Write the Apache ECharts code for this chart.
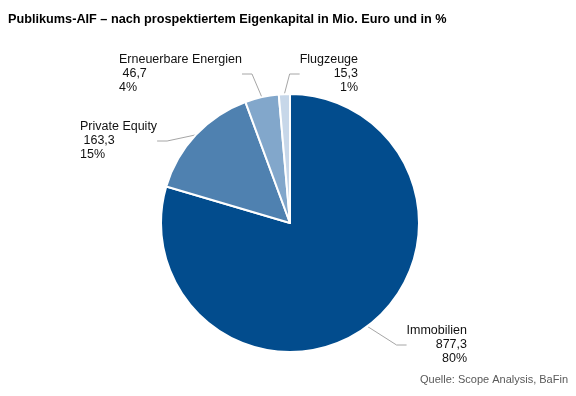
<!DOCTYPE html>
<html>
<head>
<meta charset="utf-8">
<script src="https://cdn.jsdelivr.net/npm/echarts@6/dist/echarts.min.js"></script>
<style>html,body{margin:0;padding:0;background:#fff}#c{width:576px;height:396px}</style>
</head>
<body>
<div id="c"></div>
<script>
const categories = ['Immobilien', 'Private Equity', 'Erneuerbare Energien', 'Flugzeuge'];
const values = [877.3, 163.3, 46.7, 15.3];
const percents = ['80%', '15%', '4%', '1%'];
const colors = ['#024C8D', '#4F81B0', '#82A7CB', '#C7D7E9'];

const labelPlacement = [
  { x: 467, y: 324, align: 'right' },
  { x: 80, y: 120, align: 'left' },
  { x: 119, y: 53, align: 'left' },
  { x: 358, y: 53, align: 'right' }
];

const fmt = v => v.toFixed(1).replace('.', ',');

const chart = echarts.init(document.getElementById('c'), null, { renderer: 'canvas' });
chart.setOption({
  animation: false,
  backgroundColor: '#ffffff',
  title: {
    text: 'Publikums-AIF \u2013 nach prospektiertem Eigenkapital in Mio. Euro und in %',
    left: 3, top: 8,
    textStyle: { fontFamily: 'Liberation Sans, Arial, sans-serif', fontSize: 12.7, fontWeight: 'bold', color: '#000' }
  },
  graphic: [{
    type: 'text', right: 8, top: 374,
    style: { text: 'Quelle: Scope Analysis, BaFin', font: '11px "Liberation Sans", Arial, sans-serif', fill: '#595959' }
  }],
  series: [{
    type: 'pie',
    center: [290, 223],
    radius: 129,
    startAngle: 90,
    clockwise: true,
    avoidLabelOverlap: false,
    data: categories.map((c, i) => ({
      name: c, value: values[i],
      itemStyle: { color: colors[i] },
      label: {
        formatter: (i === 0 || i === 3)
          ? c + '\n' + fmt(values[i]) + '\n' + percents[i]
          : c + '\n ' + fmt(values[i]) + '\n' + percents[i],
        align: labelPlacement[i].align
      }
    })),
    itemStyle: { borderColor: '#ffffff', borderWidth: 2 },
    label: {
      show: true,
      position: 'outside',
      fontFamily: 'Liberation Sans, Arial, sans-serif',
      fontSize: 12.5,
      lineHeight: 14,
      color: '#111'
    },
    labelLine: {
      show: true, length: 10, length2: 10,
      lineStyle: { color: '#A6A6A6', width: 1 }
    },
    labelLayout: function (params) {
      const p = labelPlacement[params.dataIndex];
      return { x: p.x, y: p.y, align: p.align, verticalAlign: 'top' };
    }
  }]
});
</script>
</body>
</html>
